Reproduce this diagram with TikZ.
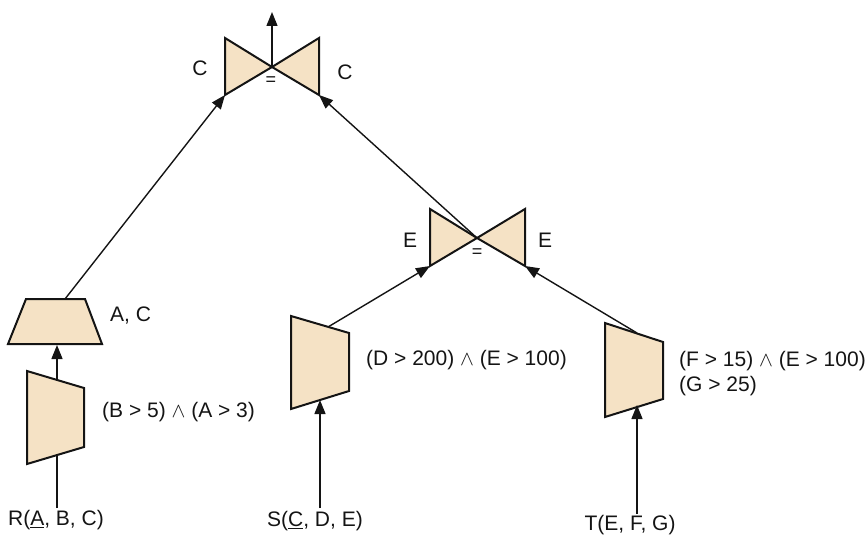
\documentclass[tikz,border=0pt]{standalone}
\usepackage{fontspec}
\setmainfont{Liberation Sans}
\usetikzlibrary{arrows.meta}
\definecolor{opfill}{RGB}{245,226,197}
\definecolor{ink}{RGB}{20,20,20}
\begin{document}
\begin{tikzpicture}[x=1pt,y=-1pt,
  opshape/.style={fill=opfill,draw=ink,line width=2pt,line join=miter},
  conn/.style={draw=ink,line width=1.4pt},
  arr/.style={conn,-{Triangle[width=11pt,length=14pt]}},
  lbl/.style={font=\fontsize{21}{25}\selectfont,inner sep=0pt,text=ink},
  eqlbl/.style={font=\fontsize{18}{20}\selectfont,inner sep=0pt,text=ink}]
\useasboundingbox (0,0) rectangle (866,537);
% ---- top join
\filldraw[opshape] (225,38) -- (272,67) -- (225,95) -- cycle;
\filldraw[opshape] (319,38) -- (272,67) -- (319,95) -- cycle;
\coordinate (j1c) at (272,67);
\coordinate (j1l) at (225,95);
\coordinate (j1r) at (319,95);
\coordinate (out) at (272,12);
\node[eqlbl] (j1eq) at (271,81) {=};
\node[lbl] (j1L) at (200,68) {C};
\node[lbl] (j1R) at (345,72) {C};
% ---- lower join
\filldraw[opshape] (430,209) -- (477,238) -- (430,266) -- cycle;
\filldraw[opshape] (525,209) -- (477,238) -- (525,266) -- cycle;
\coordinate (j2c) at (477,238);
\coordinate (j2l) at (430,266);
\coordinate (j2r) at (525,266);
\node[eqlbl] (j2eq) at (477,253) {=};
\node[lbl] (j2L) at (410,240) {E};
\node[lbl] (j2R) at (545,240) {E};
% ---- projection
\filldraw[opshape] (26,299) -- (85,299) -- (102,344) -- (8,344) -- cycle;
\coordinate (projtop) at (65,299);
\coordinate (projbot) at (57,345);
\node[lbl,anchor=west] (projL) at (110,316) {A, C};
% ---- selection R
\filldraw[opshape] (27,371) -- (84,388) -- (84,447) -- (27,464) -- cycle;
\coordinate (selRtop) at (57,380);
\coordinate (selRbot) at (57,456);
\node[lbl,anchor=west] (selRL) at (102,412) {(B > 5) $\wedge$ (A > 3)};
% ---- selection S
\filldraw[opshape] (291,316) -- (349,333) -- (349,391) -- (291,409) -- cycle;
\coordinate (selStop) at (328,327);
\coordinate (selSbot) at (320,400);
\node[lbl,anchor=west] (selSL) at (366,360) {(D > 200) $\wedge$ (E > 100)};
% ---- selection T
\filldraw[opshape] (605,323) -- (663,342) -- (663,399) -- (605,417) -- cycle;
\coordinate (selTtop) at (637,333);
\coordinate (selTbot) at (637,405);
\node[lbl,anchor=west,align=left] (selTL) at (679,374) {(F > 15) $\wedge$ (E > 100)\\(G > 25)};
% ---- relations
\node[lbl] (R) at (56,520) {R(\underline{A}, B, C)};
\node[lbl] (S) at (315,521) {S(\underline{C}, D, E)};
\node[lbl] (T) at (630,525) {T(E, F, G)};
% ---- connectors
\draw[arr] (j1c) -- (out);
\draw[arr] (projtop) -- (j1l);
\draw[arr] (j2c) -- (j1r);
\draw[arr] (selStop) -- (j2l);
\draw[arr] (selTtop) -- (j2r);
\draw[arr] (selRtop) -- (projbot);
\draw[conn] (R.north -| selRbot) ++(0,-2) -- (selRbot);
\draw[arr] (S.north -| selSbot) ++(0,-3) -- (selSbot);
\draw[arr] (T.north -| selTbot) ++(0,-1) -- (selTbot);
\end{tikzpicture}
\end{document}
